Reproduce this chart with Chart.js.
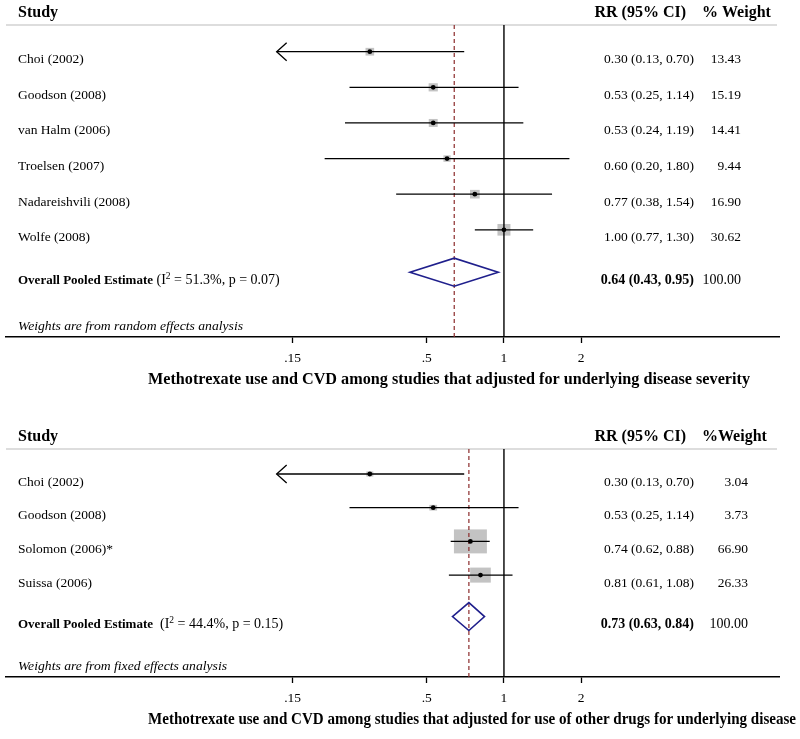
<!DOCTYPE html>
<html>
<head>
<meta charset="utf-8">
<script src="https://cdn.jsdelivr.net/npm/chart.js@4.4.0/dist/chart.umd.min.js"></script>
<style>
  html, body { margin: 0; padding: 0; background: #fff; }
  canvas { display: block; }
</style>
</head>
<body>
<canvas id="forestTop" width="800" height="400"></canvas>
<canvas id="forestBottom" width="800" height="339"></canvas>
<script>
// studies adjusted for underlying disease severity (random effects)
var studiesA = ['Choi (2002)', 'Goodson (2008)', 'van Halm (2006)', 'Troelsen (2007)', 'Nadareishvili (2008)', 'Wolfe (2008)'];
var rrA = [0.30, 0.53, 0.53, 0.60, 0.77, 1.00];
var lowA = [0.13, 0.25, 0.24, 0.20, 0.38, 0.77];
var highA = [0.70, 1.14, 1.19, 1.80, 1.54, 1.30];
var weightA = [13.43, 15.19, 14.41, 9.44, 16.90, 30.62];
var pooledA = [0.64, 0.43, 0.95];
var heteroA = ['51.3%', '0.07'];

// studies adjusted for use of other drugs (fixed effects)
var studiesB = ['Choi (2002)', 'Goodson (2008)', 'Solomon (2006)*', 'Suissa (2006)'];
var rrB = [0.30, 0.53, 0.74, 0.81];
var lowB = [0.13, 0.25, 0.62, 0.61];
var highB = [0.70, 1.14, 0.88, 1.08];
var weightB = [3.04, 3.73, 66.90, 26.33];
var pooledB = [0.73, 0.63, 0.84];
var heteroB = ['44.4%', '0.15'];

var xTicks = [0.15, 0.5, 1, 2];
var xRange = [0.01145, 11.81];

var serif = "'Liberation Serif', 'Times New Roman', serif";
Chart.defaults.font.family = serif;
Chart.defaults.color = '#000';

function squeeze(ctx, s, x, y, width) {
  var m = ctx.measureText(s).width;
  ctx.save();
  ctx.translate(x, y);
  ctx.scale(width / m, 1);
  ctx.fillText(s, 0, 0);
  ctx.restore();
}

function vline(ctx, x, y0, y1) {
  ctx.beginPath();
  ctx.moveTo(x, y0);
  ctx.lineTo(x, y1);
  ctx.stroke();
}

function makeForest(id, d) {
  var plugin = {
    id: 'forest',
    beforeDatasetsDraw: function(chart) {
      var ctx = chart.ctx, a = chart.chartArea;
      var xs = chart.scales.x, ys = chart.scales.y;
      ctx.save();
      // header rule
      ctx.strokeStyle = '#d2d2d2';
      ctx.lineWidth = 1.5;
      ctx.beginPath();
      ctx.moveTo(a.left, a.top);
      ctx.lineTo(a.right - 2, a.top);
      ctx.stroke();

      // boxes sized by weight
      ctx.fillStyle = '#c3c3c3';
      d.rr.forEach(function(v, i) {
        var w = d.boxW * Math.sqrt(d.wt[i]);
        var h = d.boxH * Math.sqrt(d.wt[i]);
        ctx.fillRect(xs.getPixelForValue(v) - w / 2, ys.getPixelForValue(i) - h / 2, w, h);
      });

      ctx.strokeStyle = '#000';
      ctx.lineWidth = 1.4;
      vline(ctx, xs.getPixelForValue(1), a.top, a.bottom);

      ctx.strokeStyle = '#8b2b2b';
      ctx.lineWidth = 1.2;
      ctx.setLineDash([4, 3]);
      vline(ctx, xs.getPixelForValue(d.pooled[0]), a.top, a.bottom);
      ctx.restore();
    },
    afterDatasetsDraw: function(chart) {
      var ctx = chart.ctx, a = chart.chartArea;
      var xs = chart.scales.x, ys = chart.scales.y;
      ctx.save();

      // arrows where the interval runs past the lowest tick
      ctx.strokeStyle = '#000';
      ctx.lineWidth = 1.3;
      d.lo.forEach(function(v, i) {
        if (v >= xTicks[0]) return;
        var x = xs.getPixelForValue(v), y = ys.getPixelForValue(i);
        ctx.beginPath();
        ctx.moveTo(x + 10, y - 9);
        ctx.lineTo(x, y);
        ctx.lineTo(x + 10, y + 9);
        ctx.stroke();
      });

      // pooled diamond
      var py = ys.getPixelForValue(d.pooledRow);
      ctx.strokeStyle = '#1f1f8c';
      ctx.lineWidth = 1.6;
      ctx.beginPath();
      ctx.moveTo(xs.getPixelForValue(d.pooled[1]), py);
      ctx.lineTo(xs.getPixelForValue(d.pooled[0]), py - 14);
      ctx.lineTo(xs.getPixelForValue(d.pooled[2]), py);
      ctx.lineTo(xs.getPixelForValue(d.pooled[0]), py + 14);
      ctx.closePath();
      ctx.stroke();

      ctx.fillStyle = '#000';
      ctx.textBaseline = 'alphabetic';

      // headers
      ctx.font = 'bold 16px ' + serif;
      ctx.textAlign = 'left';
      ctx.fillText('Study', 18, a.top - 8);
      ctx.fillText(d.weightHead, 702, a.top - 8);
      ctx.textAlign = 'right';
      ctx.fillText('RR (95% CI)', 686, a.top - 8);

      // study rows
      ctx.font = '13.5px ' + serif;
      d.study.forEach(function(s, i) {
        var y = ys.getPixelForValue(i) + 11.5;
        ctx.textAlign = 'left';
        ctx.fillText(s, 18, y);
        ctx.textAlign = 'right';
        ctx.fillText(d.rr[i].toFixed(2) + ' (' + d.lo[i].toFixed(2) + ', ' + d.hi[i].toFixed(2) + ')', 694, y);
        ctx.fillText(d.wt[i].toFixed(2), d.weightRight, y);
      });

      // pooled row
      var ty = py + 11.5;
      ctx.textAlign = 'left';
      ctx.font = 'bold 13px ' + serif;
      var label = 'Overall Pooled Estimate';
      ctx.fillText(label, 18, ty);
      var tx = 18 + ctx.measureText(label).width;
      ctx.font = '14px ' + serif;
      var pre = d.gap + '(I';
      ctx.fillText(pre, tx, ty);
      tx += ctx.measureText(pre).width;
      ctx.font = '9.5px ' + serif;
      ctx.fillText('2', tx, ty - 5);
      tx += ctx.measureText('2').width;
      ctx.font = '14px ' + serif;
      ctx.fillText(' = ' + d.hetero[0] + ', p = ' + d.hetero[1] + ')', tx, ty);
      ctx.textAlign = 'right';
      ctx.fillText('100.00', d.weightRight, ty);
      ctx.font = 'bold 14px ' + serif;
      ctx.fillText(d.pooled[0].toFixed(2) + ' (' + d.pooled[1].toFixed(2) + ', ' + d.pooled[2].toFixed(2) + ')', 694, ty);

      // footnote and title
      ctx.textAlign = 'left';
      ctx.font = 'italic 13px ' + serif;
      squeeze(ctx, d.note, 18, a.bottom - 7, d.noteWidth);
      ctx.font = 'bold 16px ' + serif;
      squeeze(ctx, d.title, 148, a.bottom + 47, d.titleWidth);
      ctx.restore();
    }
  };

  var datasets = [{
    data: d.rr.map(function(v, i) { return { x: v, y: i }; }),
    pointRadius: 2.4,
    pointBackgroundColor: '#000',
    pointBorderWidth: 0,
    showLine: false
  }];
  d.rr.forEach(function(v, i) {
    datasets.push({
      data: [{ x: d.lo[i], y: i }, { x: d.hi[i], y: i }],
      showLine: true,
      borderColor: '#000',
      borderWidth: 1.3,
      pointRadius: 0
    });
  });

  return new Chart(document.getElementById(id).getContext('2d'), {
    type: 'scatter',
    data: { datasets: datasets },
    options: {
      responsive: false,
      animation: false,
      events: [],
      layout: { padding: { left: 6, right: 21, top: d.top, bottom: 0 } },
      plugins: { legend: { display: false }, tooltip: { enabled: false } },
      scales: {
        x: {
          type: 'logarithmic',
          position: 'bottom',
          min: xRange[0],
          max: xRange[1],
          afterBuildTicks: function(scale) {
            scale.ticks = xTicks.map(function(v) { return { value: v }; });
          },
          afterFit: function(scale) { scale.height = d.axisH; },
          ticks: {
            autoSkip: false,
            maxRotation: 0,
            padding: 7,
            color: '#000',
            font: { size: 13.5 },
            callback: function(v) { return v < 1 ? String(v).slice(1) : String(v); }
          },
          grid: { drawOnChartArea: false, drawTicks: true, tickLength: 6, tickColor: '#000', tickWidth: 1.3 },
          border: { display: true, color: '#000', width: 1.5 }
        },
        y: {
          type: 'linear',
          display: false,
          reverse: true,
          min: d.yMin,
          max: d.yMax
        }
      }
    },
    plugins: [plugin]
  });
}

makeForest('forestTop', {
  study: studiesA, rr: rrA, lo: lowA, hi: highA, wt: weightA, pooled: pooledA, hetero: heteroA,
  pooledRow: 6.19, yMin: -0.75, yMax: 8.01, top: 25, axisH: 63,
  boxW: 2.35, boxH: 2.1, weightRight: 741, weightHead: '% Weight', gap: ' ',
  note: 'Weights are from random effects analysis', noteWidth: 225,
  title: 'Methotrexate use and CVD among studies that adjusted for underlying disease severity', titleWidth: 602
});

makeForest('forestBottom', {
  study: studiesB, rr: rrB, lo: lowB, hi: highB, wt: weightB, pooled: pooledB, hetero: heteroB,
  pooledRow: 4.23, yMin: -0.742, yMax: 6.024, top: 49, axisH: 62,
  boxW: 4.03, boxH: 2.93, weightRight: 748, weightHead: '%Weight', gap: '  ',
  note: 'Weights are from fixed effects analysis', noteWidth: 209,
  title: 'Methotrexate use and CVD among studies that adjusted for use of other drugs for underlying disease', titleWidth: 648
});
</script>
</body>
</html>
